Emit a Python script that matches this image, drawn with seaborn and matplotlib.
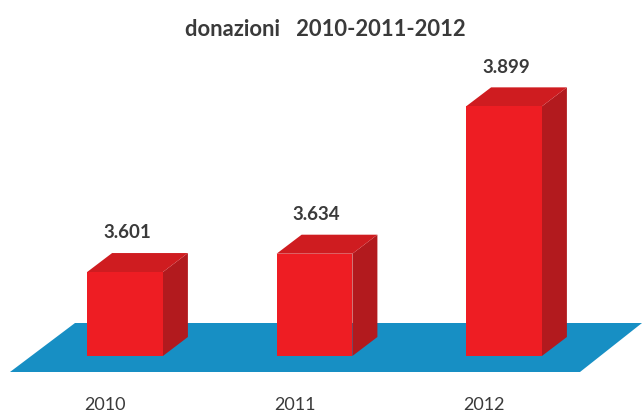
import matplotlib
matplotlib.use("Agg")
import matplotlib.pyplot as plt
import matplotlib.transforms as mtransforms
import seaborn as sns
import pandas as pd

# data
years = ["2010", "2011", "2012"]
donations = [3.601, 3.634, 3.899]
value_labels = ["3.601", "3.634", "3.899"]
title_text = "donazioni   2010-2011-2012"

# value where the bars stand on the floor
BASE = 3.450

FRONT = "#ee1d23"
TOP = "#cf1c20"
SIDE = "#b21a1e"
FLOOR = "#178fc4"
TEXT = "#3a3a3a"

sns.set_theme(style="white")
plt.rcParams["font.family"] = ["Lato", "DejaVu Sans"]

W, H, DPI = 642, 413, 100
fig = plt.figure(figsize=(W / DPI, H / DPI), dpi=DPI)
fig.patch.set_facecolor("white")

# axes occupy the figure down to the tick-label strip
ax_bottom_px = 390
ax = fig.add_axes([0, (H - ax_bottom_px) / H, 1, ax_bottom_px / H])

px_per_cat = 189.5
px_per_unit = 556.0
first_center_px = 125.0
base_px = 356.0

x_lo = -first_center_px / px_per_cat
x_hi = (W - first_center_px) / px_per_cat
y_lo = BASE - (ax_bottom_px - base_px) / px_per_unit
y_hi = BASE + base_px / px_per_unit

df = pd.DataFrame({"anno": years, "donazioni": donations})
sns.barplot(data=df, x="anno", y="donazioni", color=FRONT, saturation=1,
            width=0.40, ax=ax, zorder=4, linewidth=0)
ax.set_xlim(x_lo, x_hi)
ax.set_ylim(y_lo, y_hi)

# depth of each bar (pixels -> data units)
ddx = 25 / px_per_cat
ddy = 19 / px_per_unit


def px_to_data(px, py):
    return (px - first_center_px) / px_per_cat, BASE + (base_px - py) / px_per_unit


# blue floor plane
floor_px = [(10, 372), (580, 372), (642, 323), (75, 323)]
fx, fy = zip(*[px_to_data(*p) for p in floor_px])
ax.fill(fx, fy, color=FLOOR, zorder=1, lw=0)

for patch, val, lab in zip(ax.patches, donations, value_labels):
    patch.set_y(BASE)
    patch.set_height(val - BASE)
    x0 = patch.get_x()
    x1 = x0 + patch.get_width()
    # right side face
    ax.fill([x1, x1 + ddx, x1 + ddx, x1],
            [BASE, BASE + ddy, val + ddy, val], color=SIDE, zorder=3, lw=0)
    # top face
    ax.fill([x0, x1, x1 + ddx, x0 + ddx],
            [val, val, val + ddy, val + ddy], color=TOP, zorder=3, lw=0)
    ax.annotate(lab, xy=((x0 + x1) / 2 + 0.01, val + ddy),
                xytext=(0, 14.5), textcoords="offset points",
                ha="center", va="center", fontsize=13.5, fontweight="bold",
                color=TEXT)

fig.text(325 / W, 1 - 29 / H, title_text, ha="center", va="center",
         fontsize=15.8, fontweight="bold", color=TEXT)

ax.set_xlabel("")
ax.set_ylabel("")
ax.set_yticks([])
ax.tick_params(axis="x", length=0, pad=5, labelsize=13, labelcolor=TEXT)
for s in ax.spines.values():
    s.set_visible(False)
shift = mtransforms.ScaledTranslation(-20 / DPI, 0, fig.dpi_scale_trans)
for t in ax.get_xticklabels():
    t.set_transform(t.get_transform() + shift)

fig.savefig("out.png", dpi=DPI, facecolor="white")
